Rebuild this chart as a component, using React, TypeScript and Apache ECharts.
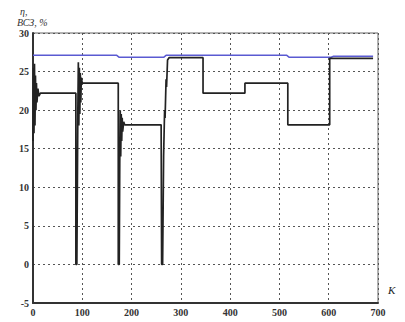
import React, { useEffect, useRef } from "react";
import * as echarts from "echarts";

const xTicks = [0, 100, 200, 300, 400, 500, 600, 700];
const yTicks = [-5, 0, 5, 10, 15, 20, 25, 30];

// black curve: [K, value]
const blackX = [0, 1, 2, 3, 4, 5, 6, 7, 8, 10, 12, 15, 87, 87, 89, 91, 92, 93, 94, 95, 96, 97, 98, 100, 173, 173, 175, 176, 177, 178, 179, 180, 181, 182, 184, 186, 260, 261, 263, 265, 267, 268, 270, 271, 273, 276, 345, 345, 430, 430, 517, 517, 602, 602, 690];
const blackY = [16, 25.5, 17, 26, 18, 24.5, 20, 23.5, 21, 22.8, 21.8, 22.2, 22.2, 0, 0, 20, 26.2, 18, 25.5, 19.5, 24.8, 21, 24.2, 23.5, 23.5, 0, 0, 13, 20, 14, 19.5, 16, 19, 17.2, 18.5, 18.1, 18.1, 0, 0, 14, 20, 19, 24, 23, 26.5, 26.8, 26.8, 22.2, 22.2, 23.5, 23.5, 18.1, 18.1, 26.7, 26.7];

// blue curve
const blueX = [0, 170, 175, 265, 270, 515, 520, 605, 610, 690];
const blueY = [27.1, 27.1, 26.85, 26.85, 27.1, 27.1, 26.85, 26.85, 27.0, 27.0];

export default function App() {
  const ref = useRef<HTMLDivElement>(null);
  useEffect(() => {
    if (!ref.current) return;
    const chart = echarts.init(ref.current, undefined, { renderer: "svg" });
    const font = "'Liberation Serif', 'DejaVu Serif', serif";
    chart.setOption({
      animation: false,
      backgroundColor: "#ffffff",
      grid: { left: 33, right: 27, top: 33, bottom: 19, show: true, borderColor: "#666", borderWidth: 1 },
      xAxis: {
        type: "value",
        min: 0,
        max: 700,
        interval: 100,
        axisLine: { show: true, onZero: false, lineStyle: { color: "#333", width: 2 } },
        axisTick: { show: false },
        axisLabel: { color: "#333", fontSize: 10, fontFamily: font, margin: 4, fontWeight: "bold" },
        splitLine: { show: true, lineStyle: { color: "#555", type: [2, 3], width: 1 } },
      },
      yAxis: {
        type: "value",
        min: -5,
        max: 30,
        interval: 5,
        axisLine: { show: true, onZero: false, lineStyle: { color: "#333", width: 2 } },
        axisTick: { show: false },
        axisLabel: { color: "#333", fontSize: 10, fontFamily: font, margin: 4, fontWeight: "bold" },
        splitLine: { show: true, lineStyle: { color: "#555", type: [2, 3], width: 1 } },
      },
      series: [
        {
          type: "line",
          data: blueX.map((x, i) => [x, blueY[i]]),
          showSymbol: false,
          lineStyle: { color: "#5a5ad2", width: 1.5 },
          z: 2,
        },
        {
          type: "line",
          data: blackX.map((x, i) => [x, blackY[i]]),
          showSymbol: false,
          lineStyle: { color: "#222222", width: 1.7 },
          z: 3,
        },
      ],
      graphic: [
        { type: "text", left: 20, top: 6, style: { text: "η,", fontSize: 10, fontFamily: font, fontStyle: "italic", fill: "#333" } },
        { type: "text", left: 17, top: 17, style: { text: "ВСЗ, %", fontSize: 10, fontFamily: font, fontStyle: "italic", fill: "#333" } },
        { type: "text", left: 388, top: 284, style: { text: "К", fontSize: 11, fontFamily: font, fontStyle: "italic", fill: "#222" } },
      ],
    });
    return () => chart.dispose();
  }, []);
  return <div ref={ref} style={{ position: "fixed", left: 0, top: 0, width: 405, height: 322 }} />;
}
